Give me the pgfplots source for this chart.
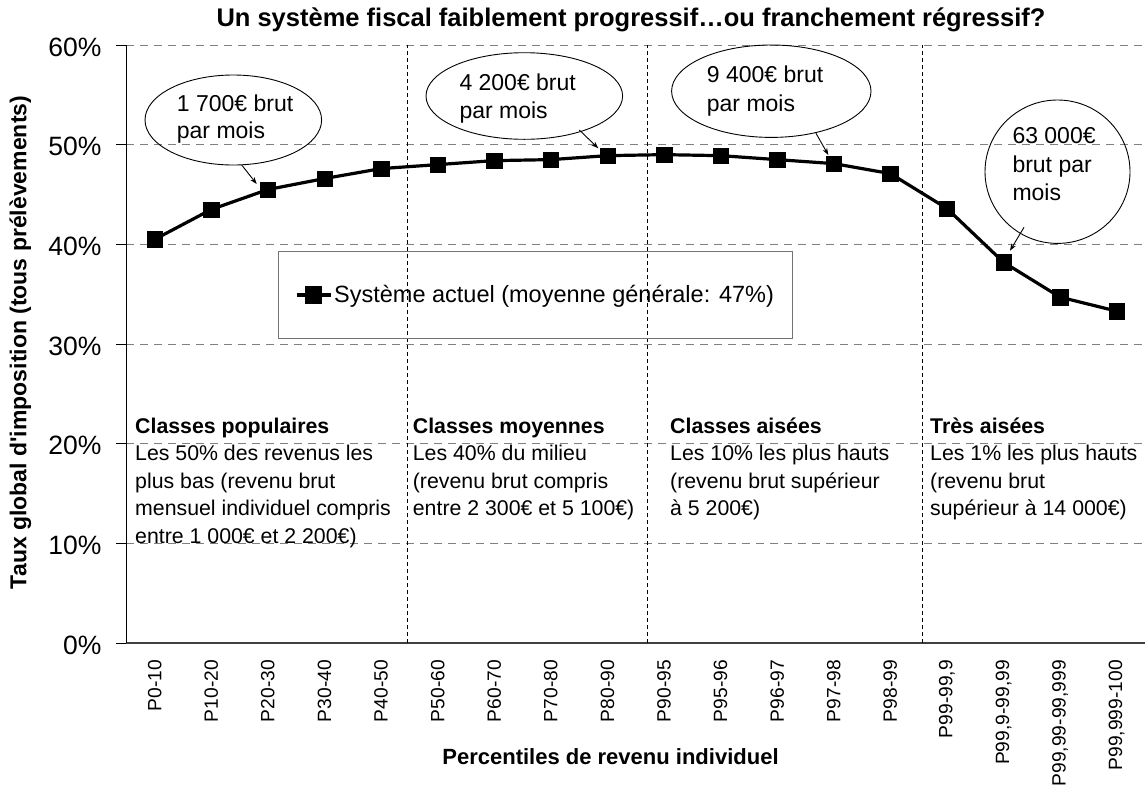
\documentclass[border=0pt]{standalone}
\usepackage{fontspec}
\setmainfont{Liberation Sans}
\usepackage{pgfplots}
\pgfplotsset{compat=1.18}
\usetikzlibrary{arrows.meta}
\newcommand{\fs}[1]{\fontsize{#1}{#1}\selectfont}
\newcommand{\tl}[3]{\node[anchor=base west, inner sep=0pt, font=\fs{21.3}] at (#1pt,-#2pt) {#3};}
\newcommand{\tb}[3]{\node[anchor=base west, inner sep=0pt, font=\bfseries\fs{21.3}] at (#1pt,-#2pt) {#3};}
\newcommand{\tc}[3]{\node[anchor=base west, inner sep=0pt, font=\fs{23}] at (#1pt,-#2pt) {#3};}
\begin{document}
\begin{tikzpicture}
\useasboundingbox (0,0) rectangle (1145pt,-785pt);
\begin{axis}[
  at={(126.4pt,-643pt)}, anchor=south west,
  scale only axis, width=1018.6pt, height=598pt,
  xmin=-0.5, xmax=17.5, ymin=0, ymax=60,
  axis x line*=bottom, axis y line*=left,
  x axis line style={draw=black!75, line width=1.4pt, -},
  y axis line style={draw=black, line width=1.2pt, -},
  ytick={0,10,...,60},
  yticklabels={},
  xtick={0,...,17},
  xticklabels={P0-10,P10-20,P20-30,P30-40,P40-50,P50-60,P60-70,P70-80,P80-90,P90-95,P95-96,P96-97,P97-98,P98-99,{P99-99,9},{P99,9-99,99},{P99,99-99,999},{P99,999-100}},
  ymajorgrids,
  grid style={dash pattern=on 8pt off 6pt, draw=black!50, line width=1pt},
  tick align=outside, ytick pos=left, xtick pos=bottom,
  major tick length=10pt,
  y tick style={draw=black, line width=1pt},
  x tick style={draw=none},
  xticklabel style={font=\fontsize{19.2}{21}\selectfont, rotate=90, anchor=east, inner sep=0pt},
  xticklabel shift=7pt,
  legend style={at={(0.1488,0.6555)}, anchor=north west, draw=black!55, line width=1pt,
    fill=none, inner xsep=16.5pt, inner ysep=32pt, font=\fs{23.5}},
  legend image code/.code={\draw[line width=3.2pt,black] (0pt,0pt) -- (34pt,0pt);
    \fill[black] (10pt,-7pt) rectangle (24pt,7pt);},
  clip=false,
]
\draw[black, line width=0.8pt, dash pattern=on 4pt off 3pt] (axis cs:4.46,0) -- (axis cs:4.46,60);
\draw[black, line width=0.8pt, dash pattern=on 4pt off 3pt] (axis cs:8.70,0) -- (axis cs:8.70,60);
\draw[black, line width=0.8pt, dash pattern=on 4pt off 3pt] (axis cs:13.56,0) -- (axis cs:13.56,60);
\addplot[black, line width=3.2pt, mark=square*, mark size=7.7pt, mark options={solid, line width=0.4pt}]
coordinates {(0,40.5) (1,43.5) (2,45.5) (3,46.6) (4,47.6) (5,48.0) (6,48.4) (7,48.5) (8,48.9)
 (9,49.0) (10,48.9) (11,48.5) (12,48.1) (13,47.1) (14,43.6) (15,38.2) (16,34.7) (17,33.3)};
\addlegendentry{Système actuel (moyenne générale: 47\%)}
\end{axis}
% y tick labels
\foreach \v/\yy in {0/643, 10/543.3, 20/443.6, 30/344, 40/244.3, 50/144.7, 60/45}
  \node[anchor=east, inner sep=0pt, font=\fs{26.5}] at (101.7pt,-\yy pt-2pt) {\v\%};
% titles
\node[font=\bfseries\fs{25.5}] at (631pt,-20pt) {Un système fiscal faiblement progressif…ou franchement régressif?};
\node[font=\bfseries\fs{22}] at (610.5pt,-757pt) {Percentiles de revenu individuel};
\node[font=\bfseries\fs{23}, rotate=90] at (20.5pt,-342.5pt) {Taux global d{\addfontfeature{Ligatures=TeXOff}'}imposition (tous prélèvements)};
% group texts
\tb{135}{433.3}{Classes populaires}
\tl{135}{460.8}{Les 50\% des revenus les}
\tl{135}{488.3}{plus bas (revenu brut}
\tl{135}{515.8}{mensuel individuel compris}
\tl{135}{543.3}{entre 1 000€ et 2 200€)}
\tb{412.7}{433.3}{Classes moyennes}
\tl{412.7}{460.8}{Les 40\% du milieu}
\tl{412.7}{488.3}{(revenu brut compris}
\tl{412.7}{515.8}{entre 2 300€ et 5 100€)}
\tb{670}{433.3}{Classes aisées}
\tl{670}{460.8}{Les 10\% les plus hauts}
\tl{670}{488.3}{(revenu brut supérieur}
\tl{670}{515.8}{à 5 200€)}
\tb{930}{433.3}{Très aisées}
\tl{930}{460.8}{Les 1\% les plus hauts}
\tl{930}{488.3}{(revenu brut}
\tl{930}{515.8}{supérieur à 14 000€)}
% callouts
\draw[black, line width=0.9pt] (233.3pt,-120pt) ellipse [x radius=88.3pt, y radius=45pt];
\draw[black, line width=0.9pt] (524.3pt,-96pt) ellipse [x radius=98.3pt, y radius=43.3pt];
\draw[black, line width=0.9pt] (771.3pt,-91.2pt) ellipse [x radius=99.7pt, y radius=46.2pt];
\draw[black, line width=0.9pt] (1057.5pt,-171.7pt) ellipse [x radius=72.5pt, y radius=71.7pt];
\draw[black, line width=0.9pt, -{Stealth[length=7pt,width=5pt]}] (241.7pt,-165pt) -- (256.7pt,-184pt);
\draw[black, line width=0.9pt, -{Stealth[length=7pt,width=5pt]}] (579.3pt,-130pt) -- (598.3pt,-148.3pt);
\draw[black, line width=0.9pt, -{Stealth[length=7pt,width=5pt]}] (816pt,-133.3pt) -- (828.3pt,-155pt);
\draw[black, line width=0.9pt, -{Stealth[length=7pt,width=5pt]}] (1024pt,-227.3pt) -- (1010pt,-250.7pt);
\tc{176.7}{111.7}{1 700€ brut}
\tc{176.7}{138.3}{par mois}
\tc{459.3}{90}{4 200€ brut}
\tc{459.3}{118}{par mois}
\tc{706.7}{82.3}{9 400€ brut}
\tc{706.7}{111}{par mois}
\tc{1012.3}{143.3}{63 000€}
\tc{1012.3}{172.5}{brut par}
\tc{1012.3}{200.7}{mois}
\end{tikzpicture}
\end{document}
